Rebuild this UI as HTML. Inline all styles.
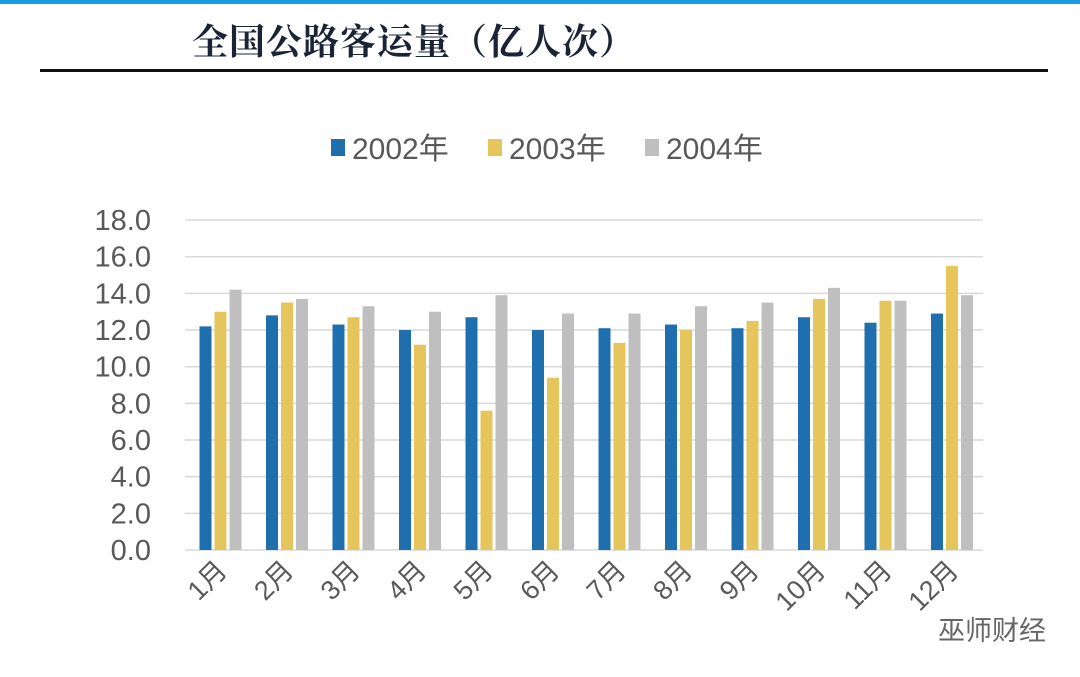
<!DOCTYPE html>
<html><head><meta charset="utf-8"><style>
body{margin:0;width:1080px;height:677px;background:#fff;overflow:hidden;position:relative;font-family:"Liberation Sans","Noto Sans CJK SC",sans-serif}
</style></head><body>
<div style="position:absolute;left:0;top:0;width:1080px;height:4px;background:#1a9be0"></div>
<div style="position:absolute;left:192px;top:14px;font-size:36px;font-weight:bold;color:#1b2336;font-family:'Noto Serif CJK SC','Noto Sans CJK SC',serif;letter-spacing:1px">全国公路客运量（亿人次）</div>
<div style="position:absolute;left:40px;top:69px;width:1008px;height:3px;background:#111"></div>
<svg width="1080" height="677" style="position:absolute;left:0;top:0" font-family="Liberation Sans, Noto Sans CJK SC, sans-serif">
<g font-size="30" fill="#595959">
<rect x="331" y="139" width="14" height="17" fill="#1f6fae"/><text x="352" y="159">2002年</text>
<rect x="488" y="139" width="14" height="17" fill="#e6c65c"/><text x="509" y="159">2003年</text>
<rect x="645" y="139" width="14" height="17" fill="#bfbfbf"/><text x="666" y="159">2004年</text>
</g>
<g stroke="#d9d9d9" stroke-width="1.5" id="grid"></g>
<g id="bars"></g>
<g font-size="29" fill="#595959" text-anchor="end" id="yl"></g>
<g font-size="27" fill="#595959" text-anchor="end" id="xl"></g>
<text x="938" y="640" font-size="27" fill="#666">巫师财经</text>
</svg>
<script>
var ns="http://www.w3.org/2000/svg";
function el(p,t,a,tx){var e=document.createElementNS(ns,t);for(var k in a)e.setAttribute(k,a[k]);if(tx)e.textContent=tx;document.getElementById(p).appendChild(e);}
var y0=550,s=18.33;
for(var i=0;i<=9;i++){var y=y0-i*2*s;el('grid','line',{x1:185,x2:983,y1:y,y2:y});el('yl','text',{x:151,y:y+10},(i*2).toFixed(1));}
var d=[[12.2,13.0,14.2],[12.8,13.5,13.7],[12.3,12.7,13.3],[12.0,11.2,13.0],[12.7,7.6,13.9],[12.0,9.4,12.9],[12.1,11.3,12.9],[12.3,12.0,13.3],[12.1,12.5,13.5],[12.7,13.7,14.3],[12.4,13.6,13.6],[12.9,15.5,13.9]];
var c=["#1f6fae","#e6c65c","#bfbfbf"];
for(var g=0;g<12;g++){var cx=218.5+g*66.5;for(var j=0;j<3;j++){var h=d[g][j]*s;el('bars','rect',{x:cx-19+j*15,y:y0-h,width:12,height:h,fill:c[j]});}
var lx=cx+10,ly=572;el('xl','text',{x:lx,y:ly,transform:'rotate(-45 '+lx+' '+ly+')'},(g+1)+'月');}
</script>
</body></html>
